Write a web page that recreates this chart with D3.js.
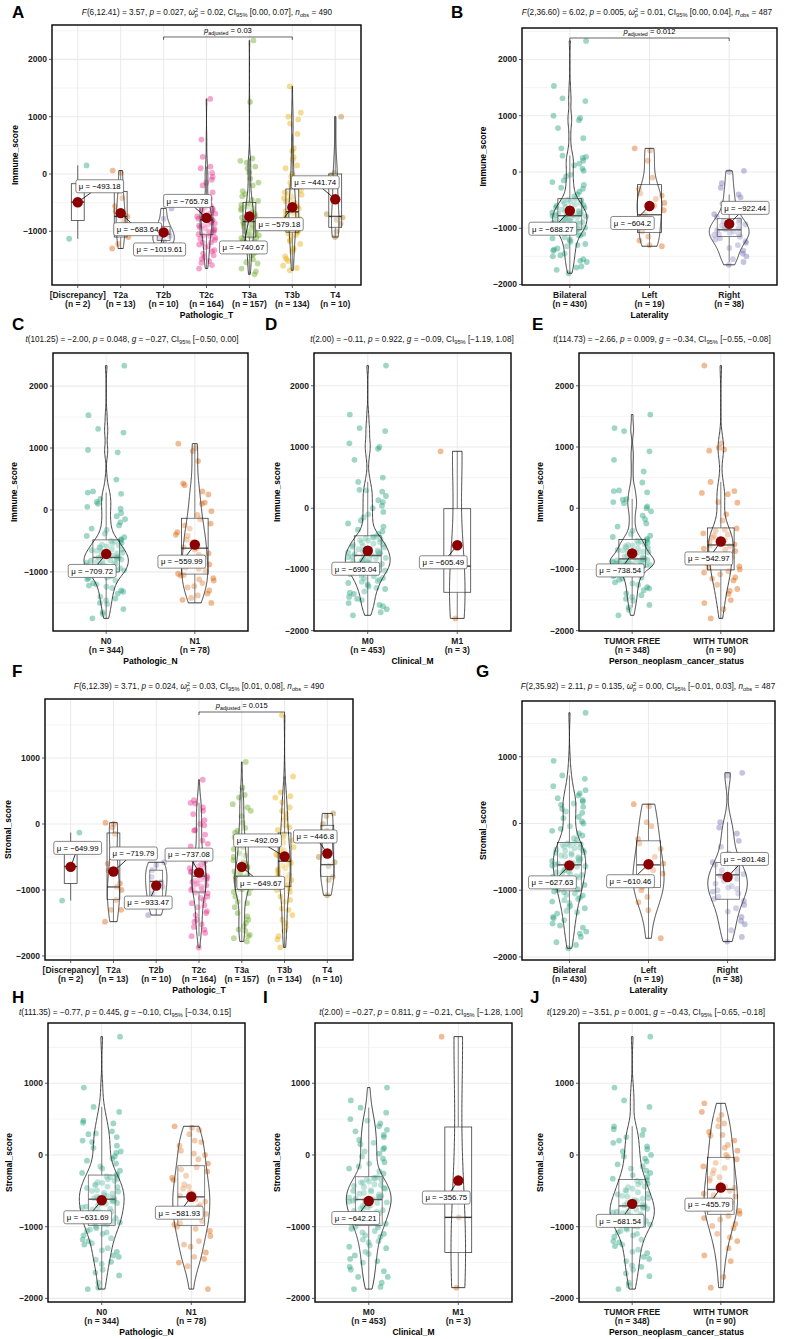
<!DOCTYPE html>
<html><head><meta charset="utf-8">
<script src="https://cdn.jsdelivr.net/npm/d3@7"></script>
<style>body{margin:0;background:#fff}svg{display:block}text{font-family:"Liberation Sans",Arial,sans-serif}</style>
</head><body><svg id="c" width="786" height="1339"></svg>
<script>
// ---------------- DATA ----------------
const palette = ["#1B9E77","#D95F02","#7570B3","#E7298A","#66A61E","#E6AB02","#A6761D"];
const catsT = ["[Discrepancy]","T2a","T2b","T2c","T3a","T3b","T4"];
const catsLat = ["Bilateral","Left","Right"];
const catsN = ["N0","N1"];
const catsM = ["M0","M1"];
const catsS = ["TUMOR FREE","WITH TUMOR"];
const ticks4 = [-1000,0,1000,2000];
const ticks5 = [-2000,-1000,0,1000,2000];
const ticksS = [-2000,-1000,0,1000];

// A: Immune_score by Pathologic_T
const nA = [2,13,10,164,157,134,10];
const meanA = [-493.18,-683.64,-1019.61,-765.78,-740.67,-579.18,-441.74];
const boxA = [[-810,-490,-170],[-1100,-740,-303],[-1160,-1050,-920],[-1060,-800,-565],[-1100,-830,-495],[-1015,-660,-262],[-930,-740,0]];
const ptsA = [
 [150,-1130],
 [60,20,-300,-420,-560,-650,-740,-820,-900,-1000,-1100,-1220,-1300],
 [-600,-780,-900,-980,-1020,-1080,-1120,-1170,-1230,-1250],
 [1310,600,300,130,100,20,-100,-200,-320,-430,-520,-580,-600,-630,-650,-680,-700,-720,-740,-760,-780,-795,-810,-830,-860,-880,-900,-930,-950,-980,-1000,-1030,-1050,-1080,-1110,-1150,-1190,-1230,-1280,-1330,-1390,-1450,-1520,-1590,-1650,
  -150,-400,-550,-620,-690,-750,-800,-850,-900,-960,-1020,-1070,-1130,-1200,-1260,-1350,-1420,-1480,-1550,-50],
 [2330,1260,270,230,130,20,-80,-200,-300,-390,-470,-510,-540,-570,-600,-630,-660,-690,-720,-760,-790,-820,-840,-870,-890,-920,-950,-980,-1000,-1030,-1050,-1070,-1090,-1120,-1160,-1200,-1250,-1300,-1360,-1420,-1490,-1560,-1650,-1750,
  200,-150,-350,-450,-520,-600,-680,-740,-800,-860,-930,-1010,-1060,-1110,-1180,-1280,-1400,-1540,-1700,100],
 [1530,1070,1000,950,880,700,450,400,250,100,0,-150,-280,-320,-360,-400,-440,-480,-520,-560,-600,-640,-680,-720,-760,-800,-840,-880,-920,-950,-980,-1010,-1040,-1090,-1150,-1220,-1290,-1360,-1440,-1520,-1600,-1680,
  300,150,-50,-220,-340,-420,-500,-580,-650,-700,-780,-860,-940,-1000,-1060,-1180,-1320,-1480,-1640,-100],
 [1000,20,-20,-150,-700,-760,-800,-870,-1000,-1100]
];
const subA = ["6,12.41","3.57","0.027","0.02","0.00","0.07","490"];
const bracketA = ["T2b","T3b","0.03"];

// B: Immune_score by Laterality
const nB = [430,19,38];
const meanB = [-688.27,-604.2,-922.44];
const boxB = [[-1027,-777,-475],[-1075,-760,-225],[-1145,-1027,-830]];
const ptsB = [
 [2330,1530,1310,1260,1000,960,920,780,600,420,290,250,150,60,-50,-180,-300,-400,-480,-500,-530,-560,-580,-600,-620,-640,-660,-680,-700,-710,-730,-740,-750,-760,-770,-780,-800,-820,-840,-860,-870,-890,-900,-920,-940,-950,-970,-980,-990,-1000,-1010,-1020,-1040,-1070,-1100,-1130,-1160,-1200,-1240,-1280,-1320,-1360,-1400,-1450,-1500,-1550,-1600,-1680,-1740,-1800,
  270,200,120,20,-80,-150,-230,-280,-350,-430,-490,-520,-550,-590,-630,-670,-690,-720,-745,-765,-790,-810,-830,-850,-880,-910,-930,-960,-990,-1015,-1050,-1090,-1120,-1180,-1220,-1300,-1380,-1480,-1580,-1700],
 [420,380,200,-100,-300,-380,-420,-480,-550,-600,-680,-760,-850,-950,-1050,-1150,-1220,-1300,-1320],
 [20,0,-200,-280,-400,-450,-560,-650,-700,-750,-800,-850,-880,-900,-930,-950,-980,-1000,-1020,-1040,-1060,-1080,-1100,-1110,-1120,-1150,-1180,-1200,-1230,-1260,-1300,-1350,-1400,-1450,-1500,-1550,-1600,-1650]
];
const subB = ["2,36.60","6.02","0.005","0.01","0.00","0.04","487"];
const bracketB = ["Bilateral","Right","0.012"];

// C: Immune_score by Pathologic_N
const nC = [344,78];
const meanC = [-709.72,-559.99];
const boxC = [[-1000,-767,-483],[-1035,-617,-134]];
const ptsC = [
 [2330,1530,1310,1250,970,930,490,300,260,130,100,20,-100,-200,-320,-420,-490,-510,-540,-570,-590,-610,-630,-650,-670,-690,-710,-720,-740,-750,-760,-770,-790,-810,-830,-850,-860,-880,-900,-910,-930,-940,-960,-970,-985,-995,-1010,-1040,-1070,-1100,-1140,-1180,-1220,-1260,-1300,-1350,-1400,-1460,-1520,-1600,-1680,-1750,
  280,180,50,-50,-150,-250,-300,-380,-440,-470,-500,-530,-560,-600,-640,-660,-700,-730,-745,-765,-780,-800,-820,-840,-870,-890,-920,-950,-975,-990,-1030,-1060,-1090,-1120,-1200,-1240,-1320,-1430,-1500,-1650],
 [1070,1000,950,790,430,400,250,100,-20,-150,-220,-300,-360,-420,-480,-540,-600,-640,-700,-760,-820,-880,-930,-980,-1030,-1060,-1100,-1140,-1180,-1230,-1300,-1350,-1420,-1500,
  300,120,-80,-250,-400,-520,-620,-720,-850,-950,-1050,-1120,-1250,-1380,-1450]
];
const subC = ["101.25","−2.00","0.048","−0.27","−0.50","0.00"];

// D: Immune_score by Clinical_M
const nD = [453,3];
const meanD = [-695.04,-605.49];
const boxD = [[-1043,-772,-451],[-1373,-946,-8]];
const ptsD = [
 [2330,1530,1310,1260,1060,1000,970,790,500,430,300,270,130,40,-100,-250,-380,-460,-480,-510,-530,-560,-580,-600,-620,-640,-660,-680,-700,-710,-730,-740,-755,-765,-780,-800,-820,-840,-860,-880,-900,-910,-930,-950,-960,-980,-990,-1000,-1015,-1030,-1040,-1050,-1080,-1110,-1140,-1170,-1200,-1240,-1280,-1320,-1360,-1400,-1450,-1500,-1550,-1600,-1650,-1700,-1750,
  290,200,100,0,-60,-150,-200,-300,-350,-420,-470,-490,-520,-550,-590,-630,-670,-690,-720,-750,-790,-810,-830,-850,-870,-890,-920,-940,-970,-1020,-1060,-1100,-1150,-1190,-1220,-1260,-1300,-1380,-1480,-1580],
 [930,-946,-1800]
];
const subD = ["2.00","−0.11","0.922","−0.09","−1.19","1.08"];

// E: Immune_score by Person_neoplasm_cancer_status
const nE = [348,90];
const meanE = [-738.54,-542.97];
const boxE = [[-965,-828,-512],[-1008,-600,-322]];
const ptsE = [
 [1530,1310,1260,930,790,600,420,290,260,140,80,0,-120,-250,-370,-470,-520,-540,-570,-590,-610,-640,-660,-680,-700,-720,-740,-760,-780,-800,-815,-830,-840,-850,-860,-870,-880,-890,-900,-910,-920,-930,-940,-950,-955,-960,-980,-1010,-1050,-1090,-1130,-1170,-1210,-1250,-1290,-1340,-1390,-1450,-1510,-1580,-1660,-1750,
  280,150,100,30,-50,-180,-300,-420,-450,-500,-530,-560,-600,-620,-650,-690,-710,-730,-770,-790,-835,-845,-855,-865,-875,-885,-895,-905,-925,-945,-1000,-1030,-1070,-1110,-1150,-1230,-1310,-1420,-1480,-1620],
 [2330,1060,990,960,940,430,280,230,90,-100,-330,-370,-410,-450,-480,-510,-540,-570,-590,-620,-660,-700,-750,-800,-850,-900,-950,-1000,-1030,-1080,-1130,-1180,-1250,-1320,-1400,-1500,-1650,-1800,
  250,100,-200,-350,-430,-520,-610,-680,-780,-880,-970,-1050,-1150,-1350,-1550]
];
const subE = ["114.73","−2.66","0.009","−0.34","−0.55","−0.08"];

// F: Stromal_score by Pathologic_T
const nF = [2,13,10,164,157,134,10];
const meanF = [-649.99,-719.79,-933.47,-737.08,-649.67,-492.09,-446.8];
const boxF = [[-903,-645,-387],[-1146,-954,-136],[-1187,-870,-700],[-1030,-790,-480],[-995,-793,-300],[-944,-565,-136],[-793,-616,-20]];
const ptsF = [
 [-130,-1160],
 [20,0,-50,-150,-600,-700,-900,-950,-1000,-1150,-1300,-1300,-1480],
 [-580,-620,-700,-800,-880,-950,-1050,-1150,-1250,-1380],
 [670,360,310,250,150,60,-20,-90,-160,-250,-340,-420,-490,-520,-550,-580,-610,-640,-670,-700,-730,-760,-780,-800,-820,-840,-860,-880,-900,-930,-950,-980,-1000,-1020,-1050,-1100,-1150,-1200,-1260,-1320,-1380,-1450,-1520,-1600,-1700,-1870,
  320,200,-100,-300,-450,-560,-650,-720,-790,-850,-910,-970,-1040,-1120,-1230,-1350,-1480,-1560,-1650,0],
 [940,550,440,300,250,120,20,-60,-130,-200,-260,-320,-380,-440,-500,-550,-600,-640,-680,-720,-750,-780,-800,-820,-840,-860,-880,-900,-920,-940,-960,-975,-990,-1030,-1100,-1180,-1260,-1350,-1450,-1550,-1620,-1680,-1730,-1780,
  400,200,-100,-230,-350,-480,-580,-660,-740,-810,-870,-930,-985,-1050,-1200,-1400,-1500,-1600,-1700,-900],
 [1650,720,480,420,330,250,150,60,-20,-90,-150,-200,-250,-300,-350,-400,-440,-480,-520,-550,-590,-630,-670,-710,-750,-790,-830,-870,-900,-930,-970,-1030,-1100,-1180,-1280,-1380,-1500,-1620,-1750,-1870,
  400,200,100,-50,-180,-280,-380,-460,-530,-610,-690,-770,-850,-920,-1000,-1150,-1300,-1450,-1560,-1700],
 [160,120,0,-100,-500,-580,-640,-800,-850,-1080]
];
const subF = ["6,12.39","3.71","0.024","0.03","0.01","0.08","490"];
const bracketF = ["T2c","T3b","0.015"];

// G: Stromal_score by Laterality
const nG = [430,19,38];
const meanG = [-627.63,-610.46,-801.48];
const boxG = [[-1010,-620,-285],[-960,-620,-260],[-1135,-770,-585]];
const ptsG = [
 [1660,940,720,670,560,450,420,380,330,280,220,160,100,30,-40,-110,-180,-240,-290,-310,-330,-350,-370,-390,-410,-430,-450,-470,-490,-510,-530,-550,-570,-590,-610,-630,-650,-680,-700,-720,-740,-770,-790,-810,-840,-860,-880,-910,-930,-950,-980,-1000,-1020,-1050,-1080,-1110,-1150,-1190,-1230,-1270,-1310,-1350,-1400,-1450,-1500,-1560,-1620,-1700,-1780,-1870,
  500,350,300,250,180,80,0,-80,-150,-220,-300,-320,-360,-400,-440,-480,-520,-560,-600,-615,-640,-670,-700,-730,-760,-800,-830,-870,-920,-990,-1030,-1070,-1130,-1170,-1250,-1330,-1420,-1530,-1650,-1820],
 [290,260,20,-40,-230,-300,-380,-500,-600,-700,-750,-800,-900,-950,-1000,-1100,-1180,-1300,-1720],
 [760,720,20,-60,-150,-260,-350,-450,-520,-580,-620,-660,-700,-730,-760,-780,-800,-830,-860,-900,-940,-960,-980,-1000,-1020,-1050,-1100,-1130,-1160,-1220,-1270,-1320,-1400,-1460,-1510,-1600,-1700,-1770]
];
const subG = ["2,35.92","2.11","0.135","0.00","−0.01","0.03","487"];

// H: Stromal_score by Pathologic_N
const nH = [344,78];
const meanH = [-631.69,-581.93];
const boxH = [[-981,-617,-280],[-981,-584,-150]];
const ptsH = [
 [1650,940,670,600,480,440,330,290,250,180,100,30,-50,-120,-190,-250,-290,-310,-340,-360,-390,-410,-440,-460,-490,-510,-530,-560,-580,-600,-610,-630,-650,-680,-700,-730,-750,-780,-800,-830,-850,-880,-900,-930,-950,-970,-1000,-1040,-1080,-1120,-1160,-1200,-1250,-1300,-1350,-1400,-1460,-1520,-1600,-1680,-1780,-1870,
  450,300,200,130,50,-20,-80,-160,-220,-270,-300,-330,-380,-420,-450,-500,-540,-570,-590,-605,-640,-670,-720,-760,-790,-820,-870,-910,-940,-960,-1020,-1060,-1100,-1180,-1230,-1330,-1420,-1490,-1640,-1850],
 [400,380,290,200,130,60,0,-60,-120,-170,-230,-290,-350,-410,-470,-520,-570,-600,-650,-700,-760,-820,-870,-920,-970,-1000,-1060,-1130,-1200,-1280,-1360,-1450,-1550,-1870,
  350,180,20,-200,-320,-440,-540,-620,-720,-850,-950,-1030,-1250,-1420,-1500]
];
const subH = ["111.35","−0.77","0.445","−0.10","−0.34","0.15"];

// I: Stromal_score by Clinical_M
const nI = [453,3];
const meanI = [-642.21,-356.75];
const boxI = [[-981,-621,-304],[-1360,-870,390]];
const ptsI = [
 [940,760,660,590,500,440,400,330,280,210,150,80,20,-50,-120,-190,-260,-310,-330,-350,-370,-390,-410,-430,-450,-470,-490,-510,-530,-550,-570,-590,-600,-615,-630,-650,-670,-690,-710,-730,-750,-770,-790,-810,-830,-850,-880,-900,-930,-950,-975,-1000,-1030,-1060,-1100,-1140,-1180,-1220,-1260,-1300,-1350,-1400,-1450,-1500,-1560,-1620,-1700,-1780,-1870,
  480,350,250,170,100,50,-20,-100,-160,-230,-320,-340,-380,-420,-460,-500,-540,-580,-595,-610,-640,-660,-700,-740,-780,-820,-860,-890,-920,-960,-1010,-1080,-1120,-1200,-1280,-1380,-1480,-1600,-1700,-1840],
 [1650,-870,-1850]
];
const subI = ["2.00","−0.27","0.811","−0.21","−1.28","1.00"];

// J: Stromal_score by Person_neoplasm_cancer_status
const nJ = [348,90];
const meanJ = [-681.54,-455.79];
const boxJ = [[-1005,-710,-341],[-827,-481,-33]];
const ptsJ = [
 [1650,940,760,670,400,350,280,200,120,50,-20,-90,-160,-220,-280,-330,-350,-380,-410,-440,-470,-500,-520,-550,-580,-600,-630,-650,-670,-690,-705,-720,-740,-760,-780,-800,-820,-840,-860,-880,-900,-920,-940,-960,-980,-1000,-1020,-1060,-1100,-1140,-1180,-1220,-1270,-1320,-1370,-1420,-1480,-1540,-1600,-1690,-1780,-1870,
  360,250,170,80,0,-50,-130,-190,-250,-310,-360,-400,-450,-490,-540,-570,-610,-640,-680,-700,-730,-750,-790,-810,-850,-870,-910,-930,-970,-990,-1040,-1080,-1120,-1200,-1250,-1350,-1450,-1560,-1650,-1820],
 [720,560,490,440,320,270,200,140,60,0,-60,-110,-160,-210,-260,-310,-360,-410,-460,-500,-540,-580,-620,-660,-700,-740,-780,-820,-850,-900,-960,-1020,-1100,-1200,-1300,-1480,-1700,-1850,
  600,400,280,100,-30,-180,-330,-440,-560,-680,-760,-880,-990,-1150,-1400]
];
const subJ = ["129.20","−3.51","0.001","−0.43","−0.65","−0.18"];

// ---------------- LAYOUT ----------------
const panels = [
 {L:"A",cats:catsT,n:nA,means:meanA,box:boxA,pts:ptsA,sub:subA,br:bracketA,brY:2391,yT:"Immune_score",xT:"Pathologic_T",ticks:ticks4,
  rect:[52,361,25,285],dom:[-1937,2600],let:[12,18],sp:[207,15],ytx:15,
  lab:[[22,-16],[17,16],[-4,17],[-19,-17],[-6,31],[-13,17],[-20,-17]]},
 {L:"B",cats:catsLat,n:nB,means:meanB,box:boxB,pts:ptsB,sub:subB,br:bracketB,brY:2382,yT:"Immune_score",xT:"Laterality",ticks:ticks5,
  rect:[522,777,28,285],dom:[-2009,2560],let:[451,18],sp:[647,15],ytx:483,
  lab:[[-17,18],[-17,17],[16,-16]]},
 {L:"C",cats:catsN,n:nC,means:meanC,box:boxC,pts:ptsC,sub:subC,yT:"Immune_score",xT:"Pathologic_N",ticks:ticks4,
  rect:[53,248,353,631],dom:[-1954,2534],let:[12,330],sp:[132,342],ytx:14,
  lab:[[-14,17],[-13,17]]},
 {L:"D",cats:catsM,n:nD,means:meanD,box:boxD,pts:ptsD,sub:subD,yT:"Immune_score",xT:"Clinical_M",ticks:ticks5,
  rect:[314,511,353,631],dom:[-2006,2536],let:[265,330],sp:[412,342],ytx:277,
  lab:[[-12,18],[-14,17]]},
 {L:"E",cats:catsS,n:nE,means:meanE,box:boxE,pts:ptsE,sub:subE,yT:"Immune_score",xT:"Person_neoplasm_cancer_status",ticks:ticks5,
  rect:[579,774,353,631],dom:[-2006,2536],let:[532,330],sp:[662,342],ytx:540,
  lab:[[-12,17],[-12,17]]},
 {L:"F",cats:catsT,n:nF,means:meanF,box:boxF,pts:ptsF,sub:subF,br:bracketF,brY:1697,yT:"Stromal_score",xT:"Pathologic_T",ticks:ticksS,
  rect:[45,353,699,960],dom:[-2061,1894],let:[12,677],sp:[199,689],ytx:8,
  lab:[[7,-19],[20,-18],[-8,17],[-10,-18],[19,16],[-27,-16],[-12,-17]]},
 {L:"G",cats:catsLat,n:nG,means:meanG,box:boxG,pts:ptsG,sub:subG,yT:"Stromal_score",xT:"Laterality",ticks:ticksS,
  rect:[522,775,701,960],dom:[-2046,1836],let:[476,677],sp:[648,689],ytx:483,
  lab:[[-17,17],[-18,17],[17,-18]]},
 {L:"H",cats:catsN,n:nH,means:meanH,box:boxH,pts:ptsH,sub:subH,yT:"Stromal_score",xT:"Pathologic_N",ticks:ticksS,
  rect:[48,245,1023,1302],dom:[-2050,1840],let:[12,1003],sp:[125,1015],ytx:9,
  lab:[[-14,17],[-12,16]]},
 {L:"I",cats:catsM,n:nI,means:meanI,box:boxI,pts:ptsI,sub:subI,yT:"Stromal_score",xT:"Clinical_M",ticks:ticksS,
  rect:[315,512,1023,1302],dom:[-2050,1840],let:[263,1003],sp:[421,1015],ytx:277,
  lab:[[-13,17],[-12,17]]},
 {L:"J",cats:catsS,n:nJ,means:meanJ,box:boxJ,pts:ptsJ,sub:subJ,yT:"Stromal_score",xT:"Person_neoplasm_cancer_status",ticks:ticksS,
  rect:[579,774,1023,1302],dom:[-2050,1840],let:[530,1003],sp:[656,1015],ytx:540,
  lab:[[-12,17],[-12,17]]}
];

// ---------------- DRAW ----------------
const svg = d3.select("#c");
svg.append("rect").attr("width",786).attr("height",1339).attr("fill","#fff");

// deterministic jitter offset in [-0.5, 0.5) (position only, not data)
function jit(i, gi){ const s = Math.sin(i*78.233 + gi*12.9898 + 0.5)*43758.5453; return (s - Math.floor(s)) - 0.5; }

function rich(sel, segs){
  let shift = 0;
  segs.forEach(([t,type])=>{
    const ts = sel.append("tspan").text(t);
    let target = 0;
    if(type==="sub"||type==="subback"){target=2.3; ts.attr("font-size","70%");}
    if(type==="sup"){target=-3.4; ts.attr("font-size","70%");}
    if(type==="i"||type==="subback") ts.attr("font-style","italic");
    if(type==="subback") ts.attr("dx",-3.2);
    ts.attr("dy", target-shift); shift = target;
  });
}
function anovaSegs(s){
  return [["F","i"],["("+s[0]+") = "+s[1]+", ",""],["p","i"],[" = "+s[2]+", ",""],["ω","i"],["2","sup"],["p","subback"],
    [" = "+s[3]+", CI",""],["95%","sub"],[" ["+s[4]+", "+s[5]+"], ",""],["n","i"],["obs","sub"],[" = "+s[6],""]];
}
function tSegs(s){
  return [["t","i"],["("+s[0]+") = "+s[1]+", ",""],["p","i"],[" = "+s[2]+", ",""],["g","i"],[" = "+s[3]+", CI",""],
    ["95%","sub"],[" ["+s[4]+", "+s[5]+"]",""]];
}

function kde(vals, nTrue, npts){
  const s = vals.slice().sort(d3.ascending);
  const sd = d3.deviation(s);
  const iqr = d3.quantile(s,0.75)-d3.quantile(s,0.25);
  const h = 0.9*Math.min(sd, iqr/1.34)*Math.pow(nTrue,-0.2);
  const lo = s[0], hi = s[s.length-1];
  return d3.range(npts).map(i=>{
    const yv = lo + (hi-lo)*i/(npts-1);
    const d = d3.mean(s, v=>Math.exp(-0.5*((yv-v)/h)**2))/(h*Math.sqrt(2*Math.PI));
    return [yv,d];
  });
}

panels.forEach(P=>{
  const [x0,x1,y0,y1] = P.rect;
  const g = svg.append("g");
  const x = d3.scalePoint().domain(P.cats).range([x0,x1]).padding(0.6);
  const y = d3.scaleLinear().domain(P.dom).range([y1,y0]);
  const step = x.step();
  // grid
  const ts = P.ticks[1]-P.ticks[0];
  const minors = d3.range(P.ticks[0]-ts/2, P.ticks[P.ticks.length-1]+ts, ts).filter(v=>v>P.dom[0]&&v<P.dom[1]);
  g.selectAll(".mi").data(minors).join("line").attr("x1",x0).attr("x2",x1)
    .attr("y1",d=>y(d)).attr("y2",d=>y(d)).attr("stroke","#EDEDED").attr("stroke-width",0.6);
  g.selectAll(".mj").data(P.ticks).join("line").attr("x1",x0).attr("x2",x1)
    .attr("y1",d=>y(d)).attr("y2",d=>y(d)).attr("stroke","#EBEBEB").attr("stroke-width",1.1);
  g.selectAll(".vx").data(P.cats).join("line").attr("x1",d=>x(d)).attr("x2",d=>x(d))
    .attr("y1",y0).attr("y2",y1).attr("stroke","#EBEBEB").attr("stroke-width",1.1);
  // points
  P.pts.forEach((arr,gi)=>{
    const cx = x(P.cats[gi]);
    g.append("g").selectAll("circle").data(arr).join("circle")
      .attr("cx",(d,i)=>cx + jit(i,gi)*0.44*step)
      .attr("cy",d=>y(d)).attr("r",2.9).attr("fill",palette[gi]).attr("fill-opacity",0.42);
  });
  // boxes
  const bw = 0.3*step;
  P.box.forEach(([q1,med,q3],gi)=>{
    const arr = P.pts[gi], cx = x(P.cats[gi]), iqr = q3-q1;
    const hi = d3.max(arr.filter(v=>v<=q3+1.5*iqr)), lo = d3.min(arr.filter(v=>v>=q1-1.5*iqr));
    const bg = g.append("g").attr("stroke","#333").attr("stroke-width",0.75);
    bg.append("line").attr("x1",cx).attr("x2",cx).attr("y1",y(q3)).attr("y2",y(hi));
    bg.append("line").attr("x1",cx).attr("x2",cx).attr("y1",y(q1)).attr("y2",y(lo));
    bg.append("rect").attr("x",cx-bw/2).attr("width",bw).attr("y",y(q3)).attr("height",y(q1)-y(q3))
      .attr("fill","#fff").attr("fill-opacity",0.2);
    bg.append("line").attr("x1",cx-bw/2).attr("x2",cx+bw/2).attr("y1",y(med)).attr("y2",y(med)).attr("stroke-width",1.4);
  });
  // violins
  const dens = P.pts.map((arr,gi)=> P.n[gi]>=3 ? kde(arr,P.n[gi],200) : null);
  const maxD = d3.max(dens.filter(d=>d), d=>d3.max(d, e=>e[1]));
  dens.forEach((dd,gi)=>{
    if(!dd) return;
    const cx = x(P.cats[gi]);
    const w = d3.scaleLinear().domain([0,maxD]).range([0,0.25*step]);
    const area = d3.area().y(d=>y(d[0])).x0(d=>cx-w(d[1])).x1(d=>cx+w(d[1]));
    g.append("path").attr("d",area(dd)).attr("fill","#fff").attr("fill-opacity",0.2)
      .attr("stroke","#222").attr("stroke-width",0.85);
  });
  // bracket
  if(P.br){
    const xa = x(P.br[0]), xb = x(P.br[1]), yb = y(P.brY);
    g.append("path").attr("d",`M${xa},${yb+3}V${yb}H${xb}V${yb+3}`).attr("fill","none").attr("stroke","#000").attr("stroke-width",0.6);
    const t = g.append("text").attr("x",(xa+xb)/2).attr("y",yb-4).attr("text-anchor","middle").attr("font-size",7.6);
    rich(t,[["p","i"],["adjusted","sub"],[" = "+P.br[2],""]]);
  }
  // frame
  g.append("rect").attr("x",x0).attr("y",y0).attr("width",x1-x0).attr("height",y1-y0)
    .attr("fill","none").attr("stroke","#000").attr("stroke-width",1.4);
  // y axis
  g.selectAll(".yt").data(P.ticks).join("line").attr("x1",x0-3).attr("x2",x0).attr("y1",d=>y(d)).attr("y2",d=>y(d)).attr("stroke","#333").attr("stroke-width",0.8);
  g.selectAll(".yl").data(P.ticks).join("text").attr("x",x0-5).attr("y",d=>y(d)+3).attr("text-anchor","end")
    .attr("font-size",8.5).attr("font-weight","bold").attr("fill","#1a1a1a").text(d=>d<0?"−"+Math.abs(d):d);
  // x axis
  g.selectAll(".xt").data(P.cats).join("line").attr("x1",d=>x(d)).attr("x2",d=>x(d)).attr("y1",y1).attr("y2",y1+3).attr("stroke","#333").attr("stroke-width",0.8);
  g.selectAll(".xl").data(P.cats).join("text").attr("x",d=>x(d)).attr("y",y1+12.5).attr("text-anchor","middle")
    .attr("font-size",8.5).attr("font-weight","bold").attr("fill","#1a1a1a").text(d=>d);
  g.selectAll(".xn").data(P.n).join("text").attr("x",(d,i)=>x(P.cats[i])).attr("y",y1+21.5).attr("text-anchor","middle")
    .attr("font-size",8.5).attr("font-weight","bold").attr("fill","#1a1a1a").text(d=>"(n = "+d+")");
  g.append("text").attr("x",(x0+x1)/2).attr("y",y1+33).attr("text-anchor","middle").attr("font-size",8.5)
    .attr("font-weight","bold").text(P.xT);
  g.append("text").attr("transform",`translate(${P.ytx},${(y0+y1)/2}) rotate(-90)`).attr("dy",3).attr("text-anchor","middle")
    .attr("font-size",8.5).attr("font-weight","bold").text(P.yT);
  // letter & subtitle
  g.append("text").attr("x",P.let[0]).attr("y",P.let[1]).attr("font-size",17).attr("font-weight","bold").text(P.L);
  const st = g.append("text").attr("x",P.sp[0]).attr("y",P.sp[1]).attr("text-anchor","middle").attr("font-size",8.2).attr("fill","#111");
  rich(st, P.sub.length===7 ? anovaSegs(P.sub) : tSegs(P.sub));
  // means + labels
  P.means.forEach((m,gi)=>{
    const cx = x(P.cats[gi]), cy = y(m);
    const lx = cx+P.lab[gi][0], ly = cy+P.lab[gi][1];
    g.append("line").attr("x1",cx).attr("y1",cy).attr("x2",lx).attr("y2",ly).attr("stroke","#000").attr("stroke-width",0.8);
    g.append("circle").attr("cx",cx).attr("cy",cy).attr("r",5.2).attr("fill","#8B0000");
    const lg = g.append("g");
    const tx = lg.append("text").attr("x",lx).attr("y",ly+2.8).attr("text-anchor","middle").attr("font-size",7.8)
      .text("μ = "+String(m).replace("-","−"));
    const w = tx.node().getComputedTextLength();
    lg.insert("rect","text").attr("x",lx-w/2-3).attr("y",ly-6.5).attr("width",w+6).attr("height",13).attr("rx",2)
      .attr("fill","#fff").attr("stroke","#555").attr("stroke-width",0.7);
  });
});
</script></body></html>
